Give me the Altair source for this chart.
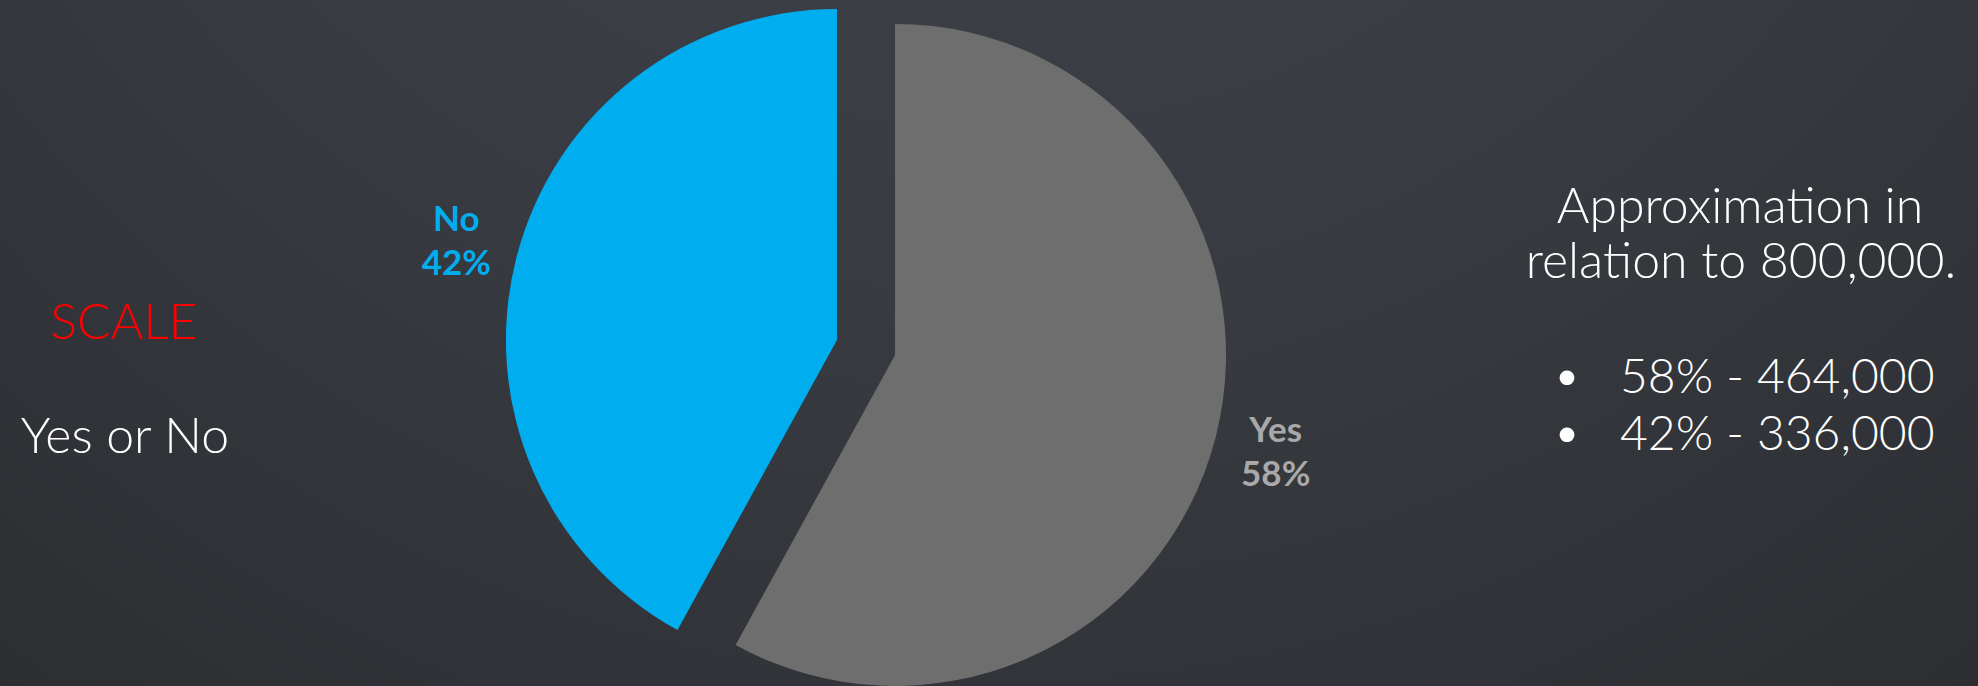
import altair as alt
import pandas as pd

# ---- data ----
categories = ["Yes", "No"]
percents = [58, 42]
slice_colors = ["#6E6E6E", "#00AEEF"]
label_colors = ["#A9A9A9", "#00AEEF"]

left_title = "SCALE"
left_sub = "Yes or No"
right_lines = ["Approximation in", "relation to 800,000."]
bullet_lines = ["58% - 464,000", "42% - 336,000"]

W, H = 1978, 686
CX, CY = 866, 347.5
R = 331
EXPLODE = 30
LABEL_R = 423
FONT = "Lato"

df = pd.DataFrame({"cat": categories, "pct": percents})
df["label"] = [f"{c}\n{p}%" for c, p in zip(categories, percents)]

base = alt.Chart(df).transform_joinaggregate(
    total="sum(pct)"
).transform_window(
    end="sum(pct)", frame=[None, 0]
).transform_calculate(
    t0="(datum.end - datum.pct) / datum.total * 2 * PI",
    t1="datum.end / datum.total * 2 * PI",
).transform_calculate(
    mid="(datum.t0 + datum.t1) / 2"
).transform_calculate(
    cx=f"{CX} + {EXPLODE} * sin(datum.mid)",
    cy=f"{CY} - {EXPLODE} * cos(datum.mid)",
    lx=f"{CX} + {LABEL_R} * sin(datum.mid)",
    ly=f"{CY} - {LABEL_R} * cos(datum.mid)",
)

bg = alt.Chart(pd.DataFrame({"a": [0]})).mark_rect(
    color=alt.RadialGradient(
        gradient="radial",
        x1=0.5, y1=0.0, r1=0.0,
        x2=0.5, y2=0.0, r2=1.05,
        stops=[
            alt.GradientStop(offset=0.0, color="#42464e"),
            alt.GradientStop(offset=0.45, color="#383b41"),
            alt.GradientStop(offset=0.8, color="#2c2e32"),
            alt.GradientStop(offset=1.0, color="#222326"),
        ],
    )
).encode(
    x=alt.value(0), x2=alt.value(W), y=alt.value(0), y2=alt.value(H)
)

arcs = base.mark_arc(radius=R, stroke=None).encode(
    theta=alt.Theta("t0:Q", scale=None, stack=None),
    theta2="t1:Q",
    x=alt.X("cx:Q", scale=None, stack=None),
    y=alt.Y("cy:Q", scale=None, stack=None),
    color=alt.Color("cat:N", scale=alt.Scale(domain=categories, range=slice_colors), legend=None),
)

labels = base.mark_text(
    font=FONT, fontSize=35, fontWeight="bold", lineBreak="\n",
    align="center", baseline="middle", lineHeight=44, dy=-22,
).encode(
    x=alt.X("lx:Q", scale=None, stack=None),
    y=alt.Y("ly:Q", scale=None, stack=None),
    text="label:N",
    fill=alt.Fill("cat:N", scale=alt.Scale(domain=categories, range=label_colors), legend=None),
)

def txt(s, x, y, color="#FFFFFF", size=50, align="center", weight=300):
    return alt.Chart(pd.DataFrame({"t": [s]})).mark_text(
        font=FONT, fontSize=size, fontWeight=weight, align=align,
        baseline="alphabetic", color=color,
    ).encode(x=alt.value(x), y=alt.value(y), text="t:N")

texts = [
    txt(left_title, 124, 339, color="#FF0000"),
    txt(left_sub, 125, 453),
    txt(right_lines[0], 1740, 223),
    txt(right_lines[1], 1741, 278),
    txt("•", 1567, 393, align="center"),
    txt("•", 1567, 450, align="center"),
    txt(bullet_lines[0], 1620, 393, size=48, align="left"),
    txt(bullet_lines[1], 1620, 450, size=48, align="left"),
]

chart = alt.layer(bg, arcs, labels, *texts).resolve_scale(
    color="independent", fill="independent"
).properties(
    width=W, height=H, padding=0, autosize="none", background="#2e3035"
).configure_view(stroke=None)

chart.save("out.html", embed_options={"renderer": "svg", "actions": False})
